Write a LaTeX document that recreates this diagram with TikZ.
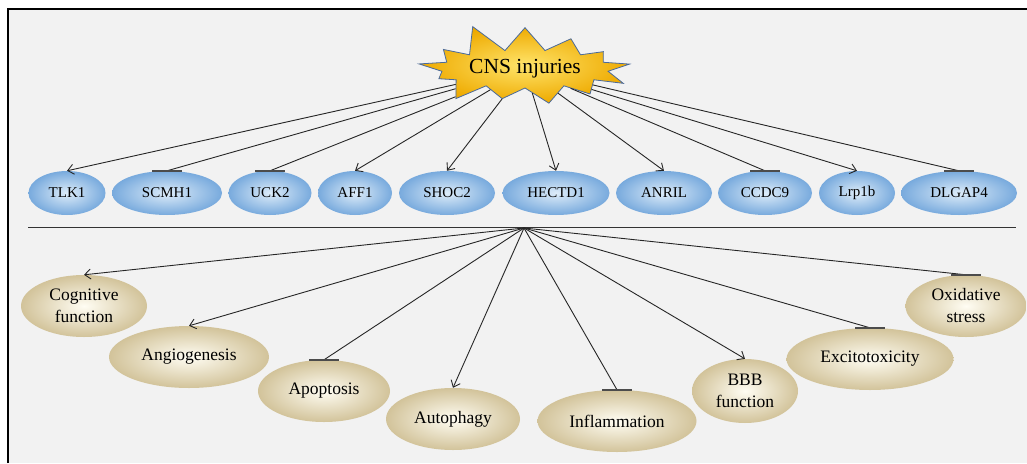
\documentclass[tikz,border=0pt]{standalone}
\usepackage{fontspec}
\setmainfont{Liberation Serif}
\usetikzlibrary{arrows.meta,shapes.geometric,shapes.symbols}
\definecolor{panel}{HTML}{F2F2F2}
\definecolor{genecore}{HTML}{DDECF9}
\definecolor{geneedge}{HTML}{78AADD}
\definecolor{proccore}{HTML}{FFFDF3}
\definecolor{procedge}{HTML}{D2C39A}
\definecolor{starcore}{HTML}{FFE46A}
\definecolor{staredge}{HTML}{EEAA00}
\definecolor{starline}{HTML}{4A6A9C}

\begin{document}
\begin{tikzpicture}[
    x=1pt, y=-1pt,
    gene/.style={ellipse, inner color=genecore, outer color=geneedge, minimum height=44pt, inner sep=0pt, font=\fontsize{15}{17}\selectfont},
    proc/.style={ellipse, inner color=proccore, outer color=procedge, minimum height=62pt, inner sep=0pt, align=center, font=\fontsize{17.5}{22}\selectfont},
    link/.style={draw=black!85, line width=0.9pt},
    act/.style={link, -{Straight Barb[length=6pt,width=10pt]}},
    stopbar/.style={draw=black!70, line width=1.6pt}
  ]
  \useasboundingbox (0,0) rectangle (1027,463);
  \fill[white] (0,0) rectangle (1027,463);
  \fill[panel] (8,9) rectangle (1027,463);
  \draw[line width=1.6pt] (8,463) -- (8,9) -- (1027,9);

  % trigger
  \node[starburst, starburst points=13, starburst point height=30pt, random starburst=11,
        minimum width=180pt, minimum height=98pt, inner color=starcore, outer color=staredge,
        draw=starline, line width=0.8pt, font=\fontsize{21.5}{24}\selectfont] (cns) at (525,69) {CNS injuries};

  % molecules
  \node[gene, minimum width=77pt] (tlk) at (67,193) {TLK1};
  \node[gene, minimum width=110pt] (scmh) at (167,193) {SCMH1};
  \node[gene, minimum width=83pt] (uck) at (270,193) {UCK2};
  \node[gene, minimum width=74pt] (aff) at (355,193) {AFF1};
  \node[gene, minimum width=96pt] (shoc) at (447,193) {SHOC2};
  \node[gene, minimum width=107pt] (hectd) at (556,193) {HECTD1};
  \node[gene, minimum width=96pt] (anril) at (664,193) {ANRIL};
  \node[gene, minimum width=94pt] (ccdc) at (765,193) {CCDC9};
  \node[gene, minimum width=76pt] (lrp) at (857,193) {Lrp1b};
  \node[gene, minimum width=116pt] (dlgap) at (959,193) {DLGAP4};

  \draw[act] (cns) -- (tlk.north);
  \draw[link] (cns) -- (scmh.north);
  \draw[stopbar] ([xshift=-15pt]scmh.north) -- ([xshift=15pt]scmh.north);
  \draw[link] (cns) -- (uck.north);
  \draw[stopbar] ([xshift=-15pt]uck.north) -- ([xshift=15pt]uck.north);
  \draw[act] (cns) -- (aff.north);
  \draw[act] (cns) -- (shoc.north);
  \draw[act] (cns) -- (hectd.north);
  \draw[act] (cns) -- (anril.north);
  \draw[link] (cns) -- (ccdc.north);
  \draw[stopbar] ([xshift=-15pt]ccdc.north) -- ([xshift=15pt]ccdc.north);
  \draw[act] (cns) -- (lrp.north);
  \draw[link] (cns) -- (dlgap.north);
  \draw[stopbar] ([xshift=-15pt]dlgap.north) -- ([xshift=15pt]dlgap.north);

  % divider
  \coordinate (divl) at (28,227);
  \coordinate (divr) at (1016,227);
  \draw[line width=1pt, black!80] (divl) -- (divr);
  \coordinate (hub) at (524,228);

  % processes
  \node[proc, minimum width=126pt] (cog) at (84,306) {Cognitive\\function};
  \node[proc, minimum width=160pt] (angio) at (189,357) {Angiogenesis};
  \node[proc, minimum width=132pt] (apop) at (324,391) {Apoptosis};
  \node[proc, minimum width=134pt] (auto) at (453,419) {Autophagy};
  \node[proc, minimum width=159pt] (infl) at (617,421) {Inflammation};
  \node[proc, minimum width=106pt, minimum height=64pt] (bbb) at (745,391) {BBB\\function};
  \node[proc, minimum width=167pt] (excit) at (870,359) {Excitotoxicity};
  \node[proc, minimum width=121pt] (oxid) at (966,306) {Oxidative\\stress};

  \draw[act] (hub) -- (cog.north);
  \draw[act] (hub) -- (angio.north);
  \draw[link] (hub) -- (apop.north);
  \draw[stopbar] ([xshift=-15pt]apop.north) -- ([xshift=15pt]apop.north);
  \draw[act] (hub) -- (auto.north);
  \draw[link] (hub) -- (infl.north);
  \draw[stopbar] ([xshift=-15pt]infl.north) -- ([xshift=15pt]infl.north);
  \draw[act] (hub) -- (bbb.north);
  \draw[link] (hub) -- (excit.north);
  \draw[stopbar] ([xshift=-15pt]excit.north) -- ([xshift=15pt]excit.north);
  \draw[link] (hub) -- (oxid.north);
  \draw[stopbar] ([xshift=-15pt]oxid.north) -- ([xshift=15pt]oxid.north);
\end{tikzpicture}
\end{document}
